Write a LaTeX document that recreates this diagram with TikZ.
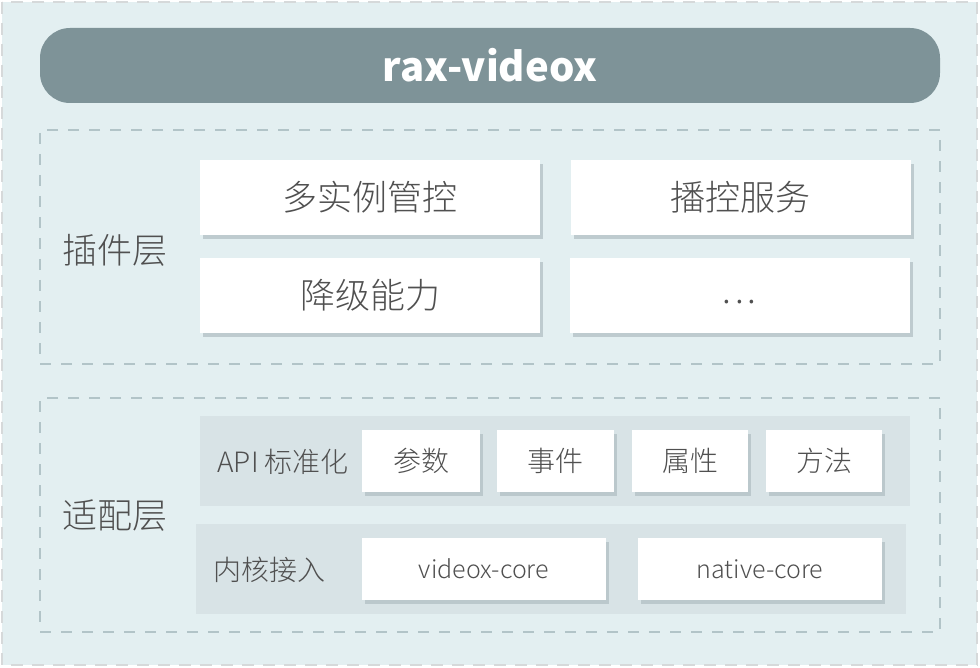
\documentclass[tikz,border=0pt]{standalone}
\usepackage{fontspec}
\setmainfont{Noto Sans CJK SC}[UprightFont=* Light, BoldFont=* Black]
\usepackage{tikz}
\usetikzlibrary{shadows}

\begin{document}
\begin{tikzpicture}[x=1pt, y=-1pt,
  bigfont/.style={font=\fontsize{35}{40}\selectfont},
  smallfont/.style={font=\fontsize{28}{32}\selectfont},
  latinfont/.style={font=\fontsize{25}{30}\selectfont},
  frame/.style={draw=framegray, dash pattern=on 12pt off 9pt, line width=1.5pt},
  layer/.style={draw=layerblue, dash pattern=on 11pt off 10pt, line width=1.5pt, minimum width=900pt, minimum height=234pt, inner sep=0pt},
  row/.style={fill=rowgray, draw=none, inner sep=0pt, minimum width=710pt, minimum height=90pt},
  panel/.style={fill=white, draw=none, inner sep=0pt, text=textgray,
    drop shadow={shadow xshift=3pt, shadow yshift=-4pt, fill=shadowgray, opacity=0.7}},
  bigbox/.style={panel, bigfont, minimum width=340pt, minimum height=75pt},
  smallbox/.style={panel, smallfont, minimum height=62pt}]
  \definecolor{bgblue}{HTML}{E3EFF1}
  \definecolor{framegray}{HTML}{D6D9DA}
  \definecolor{layerblue}{HTML}{B2C4C8}
  \definecolor{titlegray}{HTML}{7E9398}
  \definecolor{rowgray}{HTML}{D8E3E6}
  \definecolor{textgray}{HTML}{505050}
  \definecolor{shadowgray}{HTML}{AFBDC1}

  \useasboundingbox (0,0) rectangle (980,668);
  \draw[frame, fill=bgblue] (2,2) rectangle (977,665);

  % title bar
  \node[fill=titlegray, rounded corners=30pt, minimum width=900pt, minimum height=75pt, inner sep=0pt,
        text=white, font=\fontsize{40}{44}\selectfont\bfseries] (title) at (490,65.5) {rax-videox};

  % plugin layer
  \node[layer] (pluginlayer) at (490,247) {};
  \node[bigfont, text=textgray] (pluginlabel) at (115,250) {插件层};
  \node[bigbox] (multi) at (370,197.5) {多实例管控};
  \node[bigbox] (playctl) at (740.5,197.5) {播控服务};
  \node[bigbox] (degrade) at (370,295.5) {降级能力};
  \node[bigbox, text height=0pt, text depth=0pt] (more) at (739.5,295.5) {\raisebox{-8pt}{.\hspace{4pt}.\hspace{4pt}.}};

  % adapter layer
  \node[layer] (adapterlayer) at (490,515) {};
  \node[bigfont, text=textgray] (adapterlabel) at (115,516) {适配层};

  \node[row] (apirow) at (555,461) {};
  \node[smallfont, text=textgray, anchor=west] (apilabel) at (214,462) {API 标准化};
  \node[smallbox, minimum width=118pt] (param) at (421,461) {参数};
  \node[smallbox, minimum width=117pt] (event) at (555.5,461) {事件};
  \node[smallbox, minimum width=116pt] (prop) at (690,461) {属性};
  \node[smallbox, minimum width=116pt] (method) at (824,461) {方法};

  \node[row] (corerow) at (551,569) {};
  \node[smallfont, text=textgray, anchor=west] (corelabel) at (210,570) {内核接入};
  \node[smallbox, latinfont, minimum width=244pt] (videoxcore) at (484,569) {videox-core};
  \node[smallbox, latinfont, minimum width=244pt] (nativecore) at (760,569) {native-core};
\end{tikzpicture}
\end{document}
